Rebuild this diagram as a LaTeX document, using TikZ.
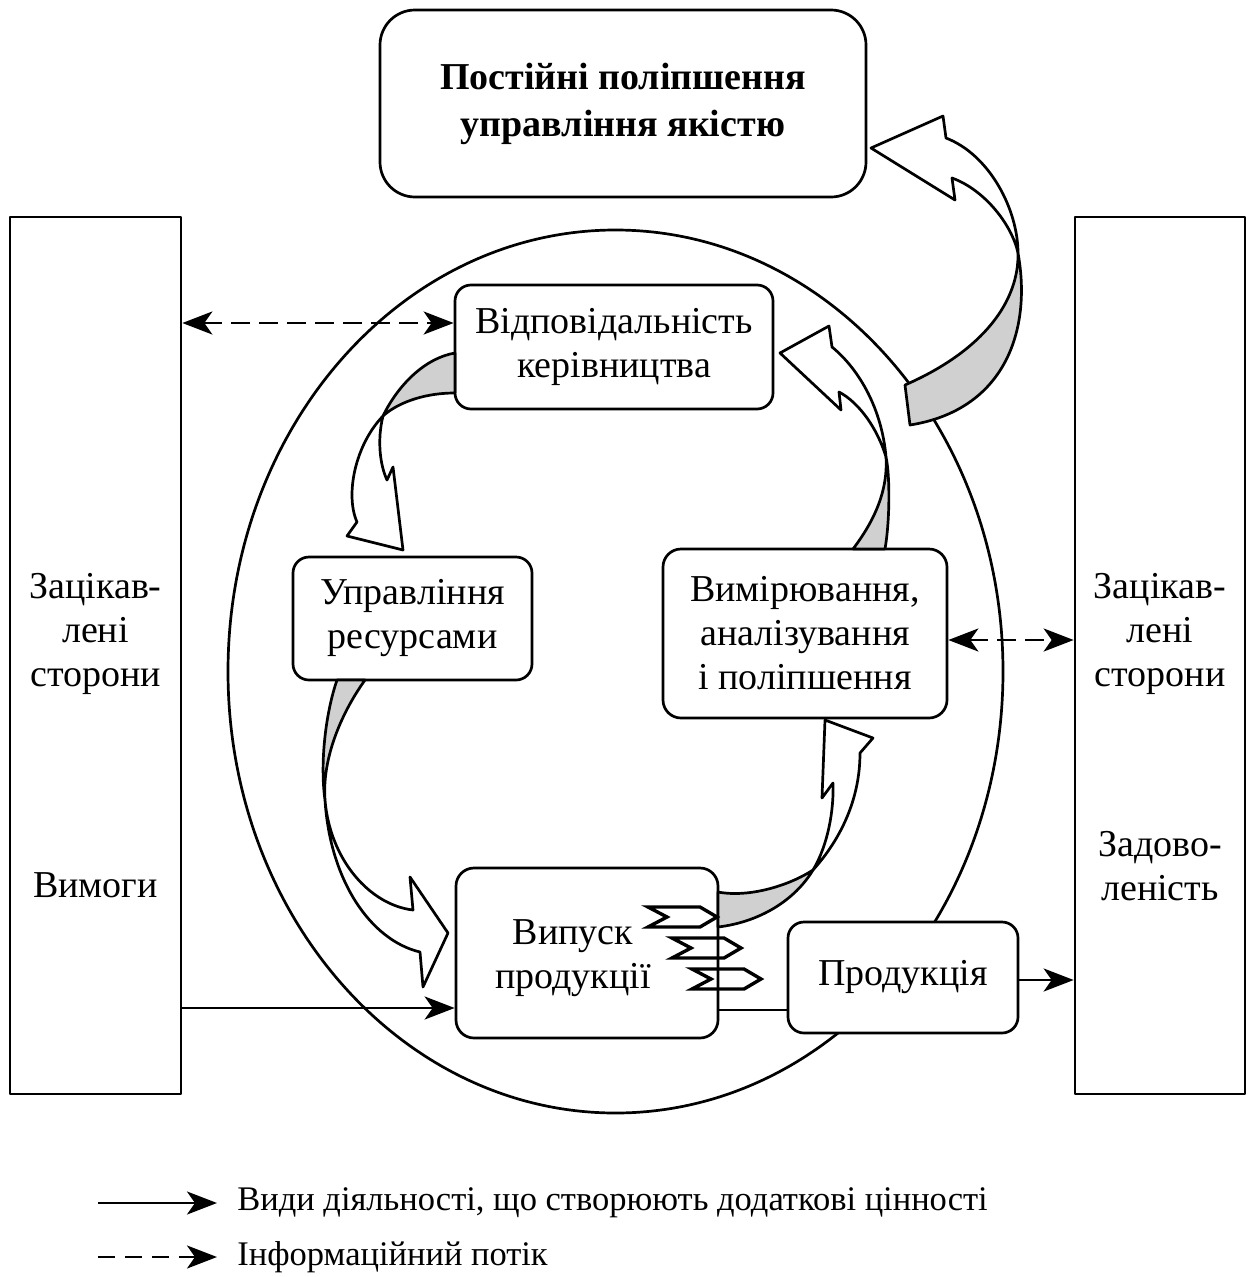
\documentclass[tikz,border=0pt]{standalone}
\usepackage{fontspec}
\setmainfont{Liberation Serif}
\usetikzlibrary{arrows.meta}
\definecolor{ribbongray}{RGB}{208,208,208}
\begin{document}
\begin{tikzpicture}[x=1pt,y=-1pt,line width=2.7pt,line join=round,
  box/.style={draw,rounded corners=16pt,fill=white,inner sep=0pt,align=center,
    font=\fontsize{38}{44}\selectfont},
  side/.style={draw,fill=white,inner sep=0pt},
  sidetext/.style={align=center,inner sep=0pt,font=\fontsize{38}{44}\selectfont},
  legtext/.style={anchor=west,inner sep=0pt,font=\fontsize{34.5}{40}\selectfont},
  actarrow/.style={-{Stealth[length=30pt,width=23pt,inset=8pt]}},
  infoarrow/.style={{Stealth[length=30pt,width=23pt,inset=8pt]}-{Stealth[length=30pt,width=23pt,inset=8pt]},
    dash pattern=on 19pt off 9pt},
  leginfo/.style={-{Stealth[length=30pt,width=23pt,inset=8pt]},dash pattern=on 17pt off 10pt},
  ribbon/.style={draw,fill=ribbongray},
  blockhead/.style={draw,fill=white},
  chev/.style={draw,line width=3.4pt,line join=miter}]
\useasboundingbox (0,0) rectangle (1254,1277);

% big ellipse
\draw (615.5,671.5) ellipse [x radius=387.5pt, y radius=441.5pt];

% side columns
\node[side,minimum width=171pt,minimum height=877pt] (leftR) at (95.5,655.5) {};
\node[side,minimum width=170pt,minimum height=877pt] (rightR) at (1160,655.5) {};
\node[sidetext] (lt1) at (95.5,634) {Зацікав-\\лені\\сторони};
\node[sidetext] (lt2) at (95.5,885) {Вимоги};
\node[sidetext] (rt1) at (1160,634) {Зацікав-\\лені\\сторони};
\node[sidetext] (rt2) at (1160,866) {Задово-\\леність};

% boxes
\node[box,rounded corners=35pt,minimum width=486pt,minimum height=187pt,
  font=\bfseries\fontsize{38}{47}\selectfont] (title) at (623,103.5)
  {Постійні поліпшення\\управління якістю};
\node[box,minimum width=318pt,minimum height=124pt] (resp) at (614,347)
  {Відповідальність\\керівництва};
\node[box,minimum width=239pt,minimum height=123pt] (res) at (412.5,618.5)
  {Управління\\ресурсами};
\node[box,rounded corners=18pt,minimum width=284pt,minimum height=169pt] (meas) at (805,633.5)
  {Вимірювання,\\аналізування\\і поліпшення};
\node[box,rounded corners=18pt,minimum width=262pt,minimum height=170pt] (prod) at (587,953) {};
\node[sidetext] (prodtext) at (573,958) {Випуск\\продукції};
\node[box,minimum width=230pt,minimum height=111pt] (out) at (903,977.5) {Продукція};

% connectors
\draw[infoarrow] (leftR.east |- 0,323) -- (resp.west |- 0,323);
\draw[infoarrow] (meas.east |- 0,640) -- (rightR.west |- 0,640);
\draw[actarrow] (leftR.east |- 0,1008) -- (prod.west |- 0,1008);
\draw (prod.east |- 0,1010) -- (out.west |- 0,1010);
\draw[actarrow] (out.east |- 0,980) -- (rightR.west |- 0,980);

% curved block arrow: to title
\draw[ribbon] (1018,253) .. controls (1019,300) and (985,350) .. (905,385)
  -- (910,425) .. controls (1005,410) and (1032,330) .. (1018,253) -- cycle;
\draw[blockhead] (1018,253) .. controls (1018,210) and (990,155) .. (946,138)
  -- (943,116) -- (871,148) -- (955,200) -- (952,178)
  .. controls (985,190) and (1012,225) .. (1018,253) -- cycle;

% resp -> res
\draw[ribbon] (455,353) .. controls (425,358) and (398,385) .. (383,416)
  .. controls (395,405) and (420,393) .. (455,393) -- cycle;
\draw[blockhead] (383,416) .. controls (355,445) and (345,495) .. (357,522)
  -- (347,536) -- (403,550) -- (393,467) -- (387,480)
  .. controls (380,465) and (377,440) .. (383,416) -- cycle;

% res -> prod
\draw[ribbon] (337,680) .. controls (325,715) and (320,765) .. (325,800)
  .. controls (322,760) and (340,715) .. (365,680) -- cycle;
\draw[blockhead] (325,800) .. controls (330,880) and (370,940) .. (420,952)
  -- (423,987) -- (448,933) -- (410,877) -- (413,910)
  .. controls (370,905) and (330,860) .. (325,800) -- cycle;

% prod -> meas
\draw[ribbon] (718,892) .. controls (750,898) and (790,885) .. (813,870)
  .. controls (795,900) and (760,922) .. (718,927) -- cycle;
\draw[blockhead] (813,870) .. controls (828,845) and (834,810) .. (833,783)
  -- (822,798) -- (825,720) -- (873,738) -- (860,753)
  .. controls (860,800) and (840,840) .. (813,870) -- cycle;

% meas -> resp
\draw[ribbon] (853,549) .. controls (875,520) and (888,490) .. (886,457)
  .. controls (890,475) and (890,520) .. (885,549) -- cycle;
\draw[blockhead] (886,457) .. controls (882,410) and (860,370) .. (832,347)
  -- (829,326) -- (780,353) -- (841,410) -- (839,392)
  .. controls (860,403) and (878,430) .. (886,457) -- cycle;

% small chevrons
\foreach \cx/\cy in {648/917, 672/948, 692/979}
  \draw[chev] (\cx,\cy-10) -- ++(52,0) -- ++(17,10) -- ++(-17,10) -- ++(-52,0) -- ++(19,-10) -- cycle;

% legend
\coordinate (ls1) at (98,1203);
\coordinate (le1) at (217,1203);
\coordinate (ls2) at (98,1257);
\coordinate (le2) at (217,1257);
\node[legtext] (lg1) at (236,1203) {Види діяльності, що створюють додаткові цінності};
\node[legtext] (lg2) at (236,1257) {Інформаційний потік};
\draw[actarrow] (ls1) -- (le1);
\draw[leginfo] (ls2) -- (le2);
\end{tikzpicture}
\end{document}
